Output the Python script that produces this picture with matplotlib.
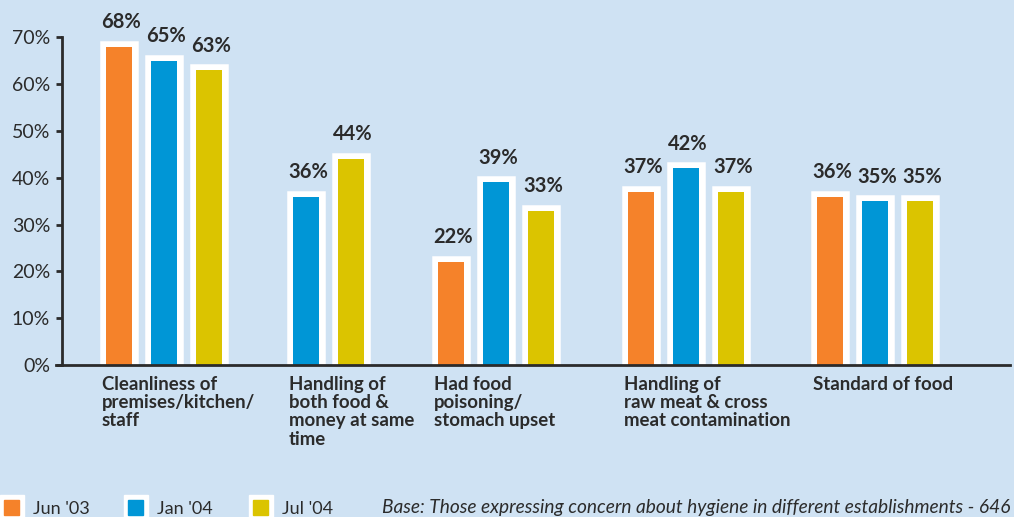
import matplotlib
matplotlib.use("Agg")
import matplotlib.pyplot as plt
from matplotlib.patches import Rectangle

# survey data: share of respondents (%) per concern, per wave
categories = [
    "Cleanliness of\npremises/kitchen/\nstaff",
    "Handling of\nboth food &\nmoney at same\ntime",
    "Had food\npoisoning/\nstomach upset",
    "Handling of\nraw meat & cross\nmeat contamination",
    "Standard of food",
]
waves = ["Jun '03", "Jan '04", "Jul '04"]
jun_03 = [68, None, 22, 37, 36]
jan_04 = [65, 36, 39, 42, 35]
jul_04 = [63, 44, 33, 37, 35]
y_ticks = [0, 10, 20, 30, 40, 50, 60, 70]
footnote = "Base: Those expressing concern about hygiene in different establishments - 646"

# layout (x axis runs in pixel units)
W, H = 1014, 517
BG = "#cfe2f3"
colors = ["#f5822a", "#0096d6", "#dbc400"]
ink = "#2b2b2b"
group_x = [119, 306, 451, 641, 830]   # centre of first bar in each group
step = 45
bar_w = 26
px_per_unit = 4.68
x0, x1 = 56, 1010
base_y = 365

plt.rcParams["font.family"] = ["Lato", "DejaVu Sans"]

fig = plt.figure(figsize=(W / 100, H / 100), dpi=100, facecolor=BG)
ymax = 75
ax = fig.add_axes([x0 / W, (H - base_y) / H, (x1 - x0) / W, ymax * px_per_unit / H])
ax.set_facecolor(BG)
ax.set_xlim(x0, x1)
ax.set_ylim(0, ymax)

series = [jun_03, jan_04, jul_04]
for g in range(len(categories)):
    pos = group_x[g]
    for s, vals in enumerate(series):
        v = vals[g]
        if v is None:
            continue
        # white frame behind each bar
        ax.bar(pos, v, width=bar_w, color="white", edgecolor="white",
               linewidth=9, joinstyle="miter", zorder=2)
        ax.bar(pos, v, width=bar_w, color=colors[s], linewidth=0, zorder=3)
        ax.annotate(f"{v}%", (pos, v), xytext=(1.5, 10.5), textcoords="offset points",
                    ha="center", va="bottom", fontsize=14.5, fontweight="bold",
                    color=ink, zorder=4)
        pos += step
    ax.text(group_x[g] - bar_w / 2 - 4, -2.4, categories[g], ha="left", va="top",
            fontsize=13.4, fontweight="bold", color=ink, linespacing=1.08)

for side in ["top", "right"]:
    ax.spines[side].set_visible(False)
ax.spines["left"].set_position(("data", 62))
ax.spines["left"].set_bounds(0, 70)
for side in ["left", "bottom"]:
    ax.spines[side].set_color(ink)
    ax.spines[side].set_linewidth(2)
    ax.spines[side].set_zorder(5)

ax.set_xticks([])
ax.set_yticks(y_ticks)
ax.set_yticklabels([f"{t}%" for t in y_ticks])
ax.tick_params(axis="y", direction="out", length=4.5, width=2, color=ink,
               labelsize=14, labelcolor=ink, pad=4)

# legend row at the bottom
leg_x = [4, 128, 253]
for i, name in enumerate(waves):
    lx = leg_x[i]
    fig.add_artist(Rectangle(((lx - 4) / W, 0), 24 / W, 22 / H,
                             transform=fig.transFigure, color="white"))
    fig.add_artist(Rectangle((lx / W, 2 / H), 15 / W, 15 / H,
                             transform=fig.transFigure, color=colors[i]))
    fig.text((lx + 29) / W, 8 / H, name, ha="left", va="center",
             fontsize=13, color=ink)
fig.text(1010 / W, 9 / H, footnote, ha="right", va="center",
         fontsize=13.8, style="italic", color=ink)

fig.savefig("out.png", dpi=100, facecolor=BG)
